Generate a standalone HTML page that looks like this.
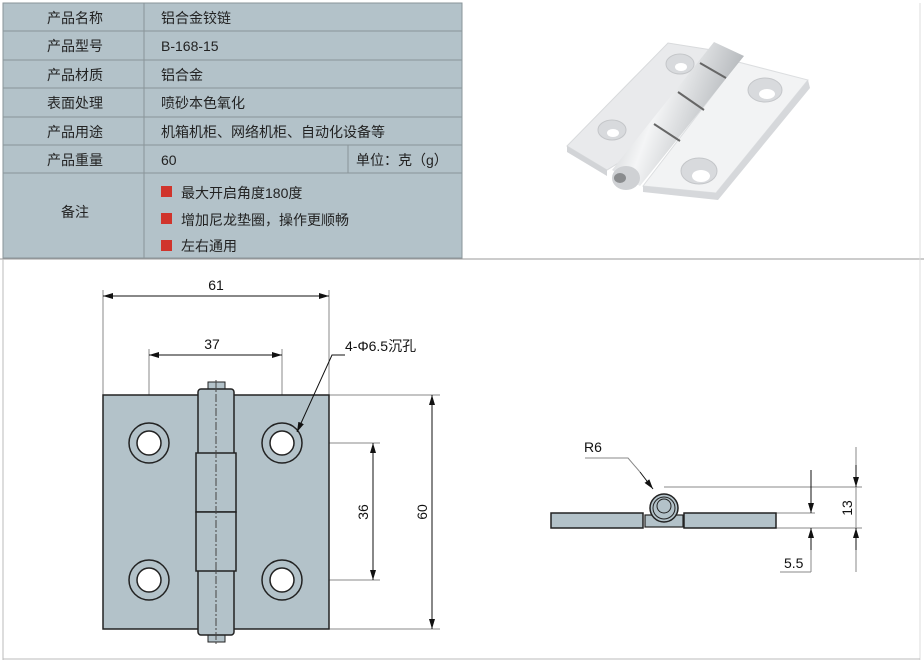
<!DOCTYPE html>
<html><head><meta charset="utf-8"><style>
body{margin:0;width:924px;height:662px;background:#fff;overflow:hidden;font-family:"Liberation Sans","Noto Sans CJK SC",sans-serif;}
</style></head><body>
<svg width="924" height="662" viewBox="0 0 924 662" xmlns="http://www.w3.org/2000/svg" font-family="Liberation Sans, Noto Sans CJK SC, sans-serif">
<defs>
<marker id="a" markerWidth="10" markerHeight="6" refX="10" refY="3" orient="auto" markerUnits="userSpaceOnUse"><path d="M0,0L10,3L0,6z" fill="#111"/></marker>
<linearGradient id="cyl" x1="0" y1="0" x2="1" y2="0.4"><stop offset="0" stop-color="#b4b7bb"/><stop offset="0.45" stop-color="#f4f5f6"/><stop offset="1" stop-color="#a9adb1"/></linearGradient>
</defs>
<!-- table -->
<rect x="3" y="3" width="459" height="255" fill="#b3c2c9" stroke="#8a9499"/>
<g stroke="#8a9499" stroke-width="1">
<line x1="3" y1="31" x2="462" y2="31"/><line x1="3" y1="60" x2="462" y2="60"/><line x1="3" y1="88" x2="462" y2="88"/>
<line x1="3" y1="117" x2="462" y2="117"/><line x1="3" y1="145" x2="462" y2="145"/><line x1="3" y1="173" x2="462" y2="173"/>
<line x1="144" y1="3" x2="144" y2="258"/><line x1="348" y1="145" x2="348" y2="173"/>
</g>
<line x1="0" y1="259" x2="924" y2="259" stroke="#999"/>
<line x1="3" y1="259" x2="3" y2="660" stroke="#bbb"/><line x1="920" y1="3" x2="920" y2="660" stroke="#ddd"/>
<line x1="3" y1="659" x2="920" y2="659" stroke="#bbb"/>
<g font-size="14" fill="#222">
<text x="75" y="23" text-anchor="middle">产品名称</text>
<text x="75" y="51" text-anchor="middle">产品型号</text>
<text x="75" y="80" text-anchor="middle">产品材质</text>
<text x="75" y="108" text-anchor="middle">表面处理</text>
<text x="75" y="137" text-anchor="middle">产品用途</text>
<text x="75" y="165" text-anchor="middle">产品重量</text>
<text x="75" y="217" text-anchor="middle">备注</text>
<text x="161" y="23">铝合金铰链</text>
<text x="161" y="51">B-168-15</text>
<text x="161" y="80">铝合金</text>
<text x="161" y="108">喷砂本色氧化</text>
<text x="161" y="137">机箱机柜、网络机柜、自动化设备等</text>
<text x="161" y="165">60</text>
<text x="356" y="165">单位：克（g）</text>
<text x="181" y="198">最大开启角度180度</text>
<text x="181" y="225">增加尼龙垫圈，操作更顺畅</text>
<text x="181" y="251">左右通用</text>
</g>
<rect x="161" y="186" width="11" height="11" fill="#d0342c"/>
<rect x="161" y="213" width="11" height="11" fill="#d0342c"/>
<rect x="161" y="240" width="11" height="11" fill="#d0342c"/>
<!-- photo -->
<polygon points="567,146 668,43 712,50 690,80 620,162 607,170" fill="#e9eaec" stroke="#d8dadc"/>
<polygon points="567,146 607,170 607,176 567,152" fill="#d2d4d7"/>
<polygon points="643,186 738,62 808,80 716,193" fill="#f2f3f4" stroke="#dcdee0"/>
<polygon points="716,193 808,80 810,88 718,200 643,192 643,186" fill="#d6d8db"/>
<g fill="#d8dadd" stroke="#c4c6c9"><ellipse cx="680" cy="64" rx="14" ry="10"/><ellipse cx="612" cy="130" rx="14" ry="10"/><ellipse cx="765" cy="90" rx="17" ry="12"/><ellipse cx="699" cy="171" rx="18" ry="13"/></g>
<g fill="#fff"><ellipse cx="681" cy="67" rx="6" ry="4"/><ellipse cx="613" cy="133" rx="6" ry="4"/><ellipse cx="767" cy="94" rx="8" ry="5"/><ellipse cx="701" cy="176" rx="9" ry="6"/></g>
<polygon points="612,170 714,42 744,56 640,186" fill="url(#cyl)"/>
<ellipse cx="626" cy="178" rx="14" ry="12" fill="#cfd1d4"/>
<ellipse cx="620" cy="178" rx="6" ry="5" fill="#8a8c8e"/>
<line x1="700" y1="63" x2="726" y2="78" stroke="#666" stroke-width="2"/>
<line x1="678" y1="92" x2="704" y2="110" stroke="#666" stroke-width="2"/>
<line x1="654" y1="124" x2="680" y2="141" stroke="#666" stroke-width="2"/>
<!-- front view -->
<g stroke="#888" stroke-width="1" fill="none">
<line x1="103" y1="290" x2="103" y2="395"/><line x1="329" y1="290" x2="329" y2="395"/>
<line x1="149" y1="349" x2="149" y2="443"/><line x1="282" y1="349" x2="282" y2="443"/>
<line x1="329" y1="395" x2="440" y2="395"/><line x1="329" y1="629" x2="440" y2="629"/>
<line x1="300" y1="443" x2="380" y2="443"/><line x1="300" y1="580" x2="380" y2="580"/>
</g>
<g stroke="#111" stroke-width="1">
<line x1="103" y1="296" x2="329" y2="296" marker-end="url(#a)"/><line x1="329" y1="296" x2="103" y2="296" marker-end="url(#a)"/>
<line x1="149" y1="355" x2="282" y2="355" marker-end="url(#a)"/><line x1="282" y1="355" x2="149" y2="355" marker-end="url(#a)"/>
<line x1="432" y1="395" x2="432" y2="629" marker-end="url(#a)"/><line x1="432" y1="629" x2="432" y2="395" marker-end="url(#a)"/>
<line x1="373" y1="443" x2="373" y2="580" marker-end="url(#a)"/><line x1="373" y1="580" x2="373" y2="443" marker-end="url(#a)"/>
</g>
<g font-size="14" fill="#111">
<text x="216" y="290" text-anchor="middle">61</text>
<text x="212" y="349" text-anchor="middle">37</text>
<text x="345" y="351">4-Φ6.5沉孔</text>
<text transform="translate(368,512) rotate(-90)" text-anchor="middle">36</text>
<text transform="translate(427,512) rotate(-90)" text-anchor="middle">60</text>
</g>
<rect x="103" y="395" width="226" height="234" fill="#b3c2c9" stroke="#222" stroke-width="1.5"/>
<rect x="208" y="382" width="17" height="10" fill="#b3c2c9" stroke="#222"/>
<rect x="208" y="632" width="17" height="10" fill="#b3c2c9" stroke="#222"/>
<rect x="198" y="389" width="36" height="246" rx="3" fill="#b3c2c9" stroke="#222" stroke-width="1.5"/>
<rect x="196" y="453" width="40" height="59" fill="#b3c2c9" stroke="#222" stroke-width="1.5"/>
<rect x="196" y="512" width="40" height="59" fill="#b3c2c9" stroke="#222" stroke-width="1.5"/>
<line x1="216" y1="380" x2="216" y2="645" stroke="#444" stroke-dasharray="8,2,2,2"/>
<g stroke="#222" stroke-width="1.5"><circle cx="149" cy="443" r="20" fill="none"/><circle cx="282" cy="443" r="20" fill="none"/><circle cx="149" cy="580" r="20" fill="none"/><circle cx="282" cy="580" r="20" fill="none"/>
<circle cx="149" cy="443" r="12" fill="#fff"/><circle cx="282" cy="443" r="12" fill="#fff"/><circle cx="149" cy="580" r="12" fill="#fff"/><circle cx="282" cy="580" r="12" fill="#fff"/></g>
<polyline points="345,355 332,355 297,432" fill="none" stroke="#111" marker-end="url(#a)"/>
<!-- side view -->
<g stroke="#888"><line x1="664" y1="487" x2="862" y2="487"/><line x1="730" y1="513" x2="815" y2="513"/><line x1="776" y1="528" x2="862" y2="528"/><line x1="811" y1="528" x2="811" y2="572"/><line x1="856" y1="447" x2="856" y2="572"/><line x1="780" y1="572" x2="811" y2="572"/>
<polyline points="585,458 628,458 640,472" fill="none"/></g>
<g stroke="#111"><line x1="811" y1="470" x2="811" y2="513" marker-end="url(#a)"/><line x1="811" y1="550" x2="811" y2="528" marker-end="url(#a)"/>
<line x1="856" y1="465" x2="856" y2="487" marker-end="url(#a)"/><line x1="856" y1="550" x2="856" y2="528" marker-end="url(#a)"/>
<line x1="640" y1="472" x2="653" y2="489" marker-end="url(#a)"/></g>
<rect x="551" y="513" width="92" height="15" fill="#b3c2c9" stroke="#222" stroke-width="1.5"/>
<rect x="684" y="513" width="92" height="15" fill="#b3c2c9" stroke="#222" stroke-width="1.5"/>
<rect x="645" y="515" width="38" height="12" fill="#b3c2c9" stroke="#222" stroke-width="1.2"/>
<circle cx="664" cy="508" r="14" fill="#b3c2c9" stroke="#222" stroke-width="1.5"/>
<circle cx="664" cy="508" r="11" fill="none" stroke="#222"/>
<circle cx="664" cy="506" r="7" fill="#b3c2c9" stroke="#222"/>
<g font-size="14" fill="#111"><text x="584" y="452">R6</text><text x="784" y="568">5.5</text>
<text transform="translate(852,508) rotate(-90)" text-anchor="middle">13</text></g>
</svg>
</body></html>
